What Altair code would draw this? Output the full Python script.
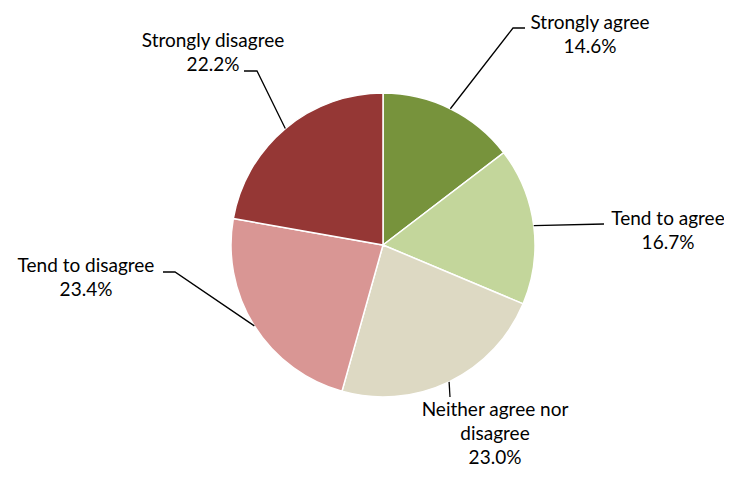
import math
import altair as alt
import pandas as pd

# ---- data ----
categories = ["Strongly agree", "Tend to agree", "Neither agree nor disagree",
              "Tend to disagree", "Strongly disagree"]
values = [14.6, 16.7, 23.0, 23.4, 22.2]
label_lines = ["Strongly agree\n14.6%", "Tend to agree\n16.7%",
               "Neither agree nor\ndisagree\n23.0%", "Tend to disagree\n23.4%",
               "Strongly disagree\n22.2%"]
colors = ["#77933C", "#C3D69B", "#DDD9C3", "#D99694", "#953735"]

# ---- layout (chart pixel coords) ----
W, H = 716, 461
CX, CY, R = 375, 237, 152
label_pos = {  # centre of the first line of each label
    "Strongly agree": (582, 14.5),
    "Tend to agree": (660, 210.5),
    "Neither agree nor disagree": (487, 402),
    "Tend to disagree": (78, 257.5),
    "Strongly disagree": (205, 32.5),
}
leader_bend = {  # elbow point and end point of each leader line
    "Strongly agree": [(505, 20), (517, 20)],
    "Tend to agree": [(596, 216), (596, 216)],
    "Neither agree nor disagree": [(442, 389), (442, 389)],
    "Tend to disagree": [(167, 264), (155, 264)],
    "Strongly disagree": [(249, 63), (236, 63)],
}

pie_df = pd.DataFrame({"cat": categories, "value": values,
                       "order": list(range(len(categories)))})

total = sum(values)
rows = []
cum = 0.0
for c, v in zip(categories, values):
    mid = (cum + v / 2) / total * 2 * math.pi
    cum += v
    sx = CX + R * math.sin(mid)
    sy = CY - R * math.cos(mid)
    pts = [(sx, sy)] + leader_bend[c]
    for i, (px, py) in enumerate(pts):
        rows.append({"cat": c, "i": i, "x": px, "y": py})
lines_df = pd.DataFrame(rows)

lab_df = pd.DataFrame({"cat": categories, "text": label_lines,
                       "x": [label_pos[c][0] for c in categories],
                       "y": [label_pos[c][1] for c in categories]})

xs = alt.Scale(domain=[0, W], nice=False, zero=False)
ys = alt.Scale(domain=[0, H], nice=False, zero=False, reverse=True)

pie = alt.Chart(pie_df).mark_arc(outerRadius=R, stroke="white", strokeWidth=1.5).encode(
    theta=alt.Theta("value:Q", stack=True),
    order=alt.Order("order:Q"),
    color=alt.Color("cat:N", scale=alt.Scale(domain=categories, range=colors), legend=None),
    x=alt.value(CX), y=alt.value(CY),
)

leaders = alt.Chart(lines_df).mark_line(color="black", strokeWidth=1.3).encode(
    x=alt.X("x:Q", scale=xs, axis=None),
    y=alt.Y("y:Q", scale=ys, axis=None),
    detail="cat:N",
    order="i:Q",
)

labels = alt.Chart(lab_df).mark_text(
    lineBreak="\n", font="Lato", fontSize=19, lineHeight=24,
    align="center", baseline="middle", color="black",
).encode(
    x=alt.X("x:Q", scale=xs, axis=None),
    y=alt.Y("y:Q", scale=ys, axis=None),
    text="text:N",
)

chart = alt.layer(pie, leaders, labels).properties(
    width=W, height=H, padding=0, autosize=alt.AutoSizeParams(type="none")
).configure_view(stroke=None).resolve_scale(color="independent")

chart.save("out.html", embed_options={"renderer": "svg", "actions": False})
